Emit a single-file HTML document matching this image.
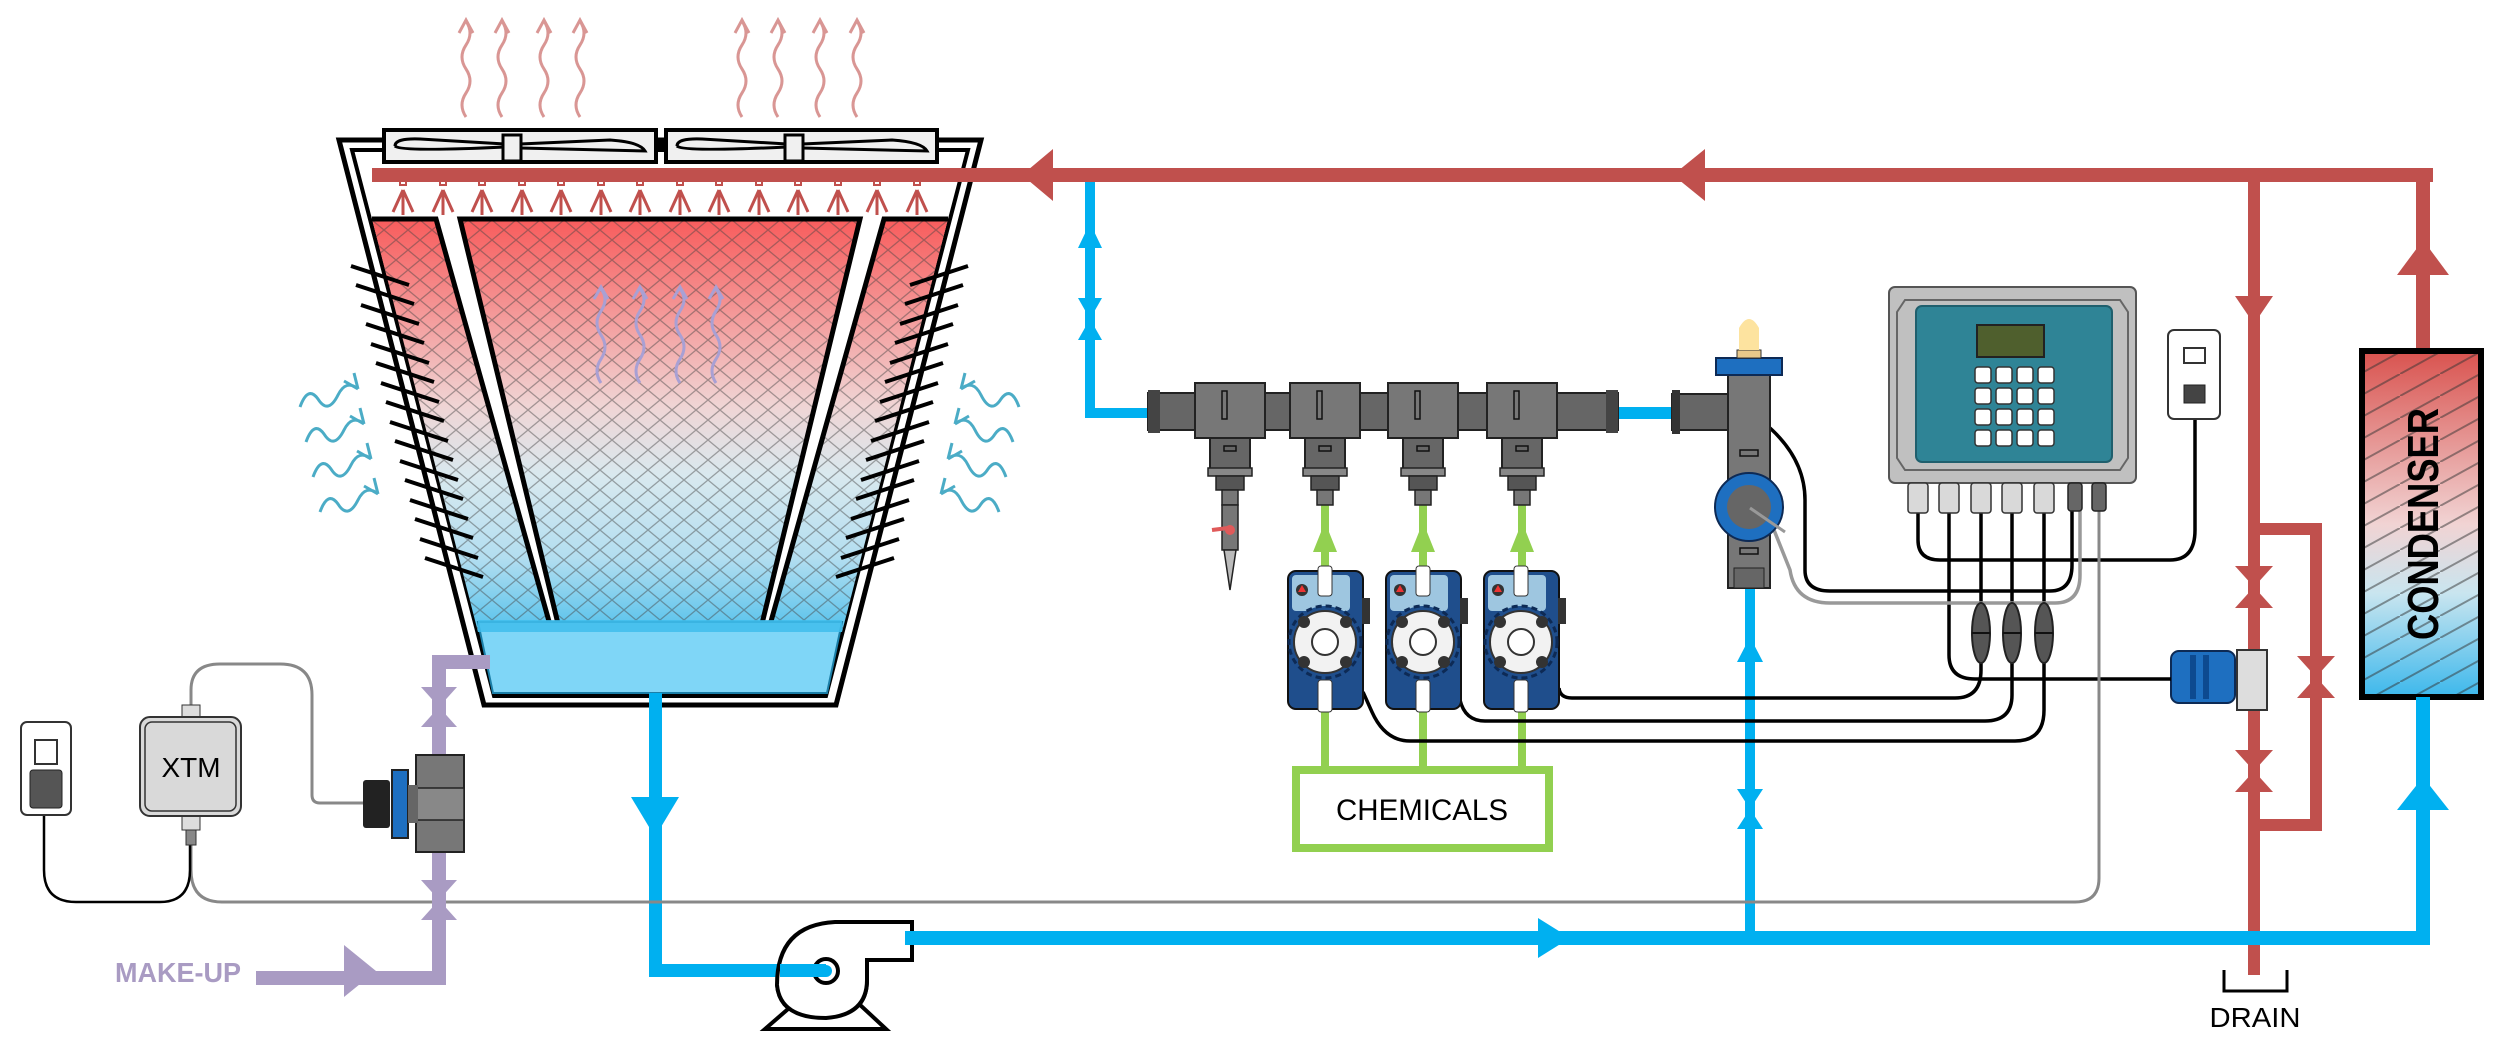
<!DOCTYPE html>
<html><head><meta charset="utf-8"><style>html,body{margin:0;padding:0;background:#fff}svg{display:block}</style></head>
<body>
<svg width="2500" height="1048" viewBox="0 0 2500 1048" xmlns="http://www.w3.org/2000/svg" font-family="Liberation Sans, sans-serif">
<defs>
<linearGradient id="fillg" x1="0" y1="219" x2="0" y2="632" gradientUnits="userSpaceOnUse">
<stop offset="0" stop-color="#f85c5c"/><stop offset="0.18" stop-color="#f58b8b"/><stop offset="0.45" stop-color="#f0d4d4"/><stop offset="0.62" stop-color="#d9e9ef"/><stop offset="0.82" stop-color="#b3def0"/><stop offset="1" stop-color="#55c2ec"/></linearGradient>
<linearGradient id="cond" x1="0" y1="351" x2="0" y2="697" gradientUnits="userSpaceOnUse">
<stop offset="0" stop-color="#d9534f"/><stop offset="0.5" stop-color="#f1d3d3"/><stop offset="0.7" stop-color="#c9e5ef"/><stop offset="1" stop-color="#3db8ec"/></linearGradient>
<pattern id="hatch" width="24" height="20" patternUnits="userSpaceOnUse"><path d="M0,10 L12,0 L24,10 L12,20 Z" fill="none" stroke="#444" stroke-opacity="0.45" stroke-width="1.3"/></pattern>
<pattern id="diag" width="40" height="22" patternUnits="userSpaceOnUse"><path d="M0,22 L40,0" stroke="#333" stroke-opacity="0.5" stroke-width="2"/></pattern>
<path id="hot" d="M0,0 q-8,-12 0,-24 q8,-12 0,-24 q-8,-12 0,-24 q8,-12 0,-24 M-7,-84 L0,-97 L7,-84" fill="none" stroke="#d99694" stroke-width="3"/>
<path id="pur" d="M0,0 q-8,-12 0,-24 q8,-12 0,-24 q-8,-12 0,-24 q8,-12 0,-22 M-7,-84 L0,-96 L7,-84" fill="none" stroke="#a9a0d4" stroke-width="3"/>
<path id="air" d="M0,22 q8,-22 18,-8 q10,16 20,-4 q8,-16 20,-6 M44,-4 L58,4 M58,4 L54,-12" fill="none" stroke="#4bacc6" stroke-width="3"/>
<g id="pump">
<rect x="1288" y="571" width="75" height="138" rx="8" fill="#1f4e8c" stroke="#111" stroke-width="2"/>
<rect x="1292" y="575" width="58" height="36" rx="4" fill="#9ec6e0"/>
<circle cx="1302" cy="590" r="6" fill="#333"/><path d="M1302,585 l4,7 h-8z" fill="#e33"/>
<rect x="1318" y="566" width="14" height="30" rx="3" fill="#fff" stroke="#333"/>
<rect x="1318" y="680" width="14" height="32" rx="3" fill="#fff" stroke="#333"/>
<rect x="1362" y="598" width="8" height="26" fill="#333"/>
<circle cx="1325" cy="642" r="36" fill="#1f4e8c" stroke="#0d2a55" stroke-width="3" stroke-dasharray="6 4"/>
<circle cx="1325" cy="642" r="31" fill="#f2f2f2" stroke="#333" stroke-width="2"/>
<circle cx="1325" cy="642" r="13" fill="#fff" stroke="#333" stroke-width="2"/>
<circle cx="1304" cy="622" r="6" fill="#333"/><circle cx="1346" cy="622" r="6" fill="#333"/><circle cx="1304" cy="662" r="6" fill="#333"/><circle cx="1346" cy="662" r="6" fill="#333"/>
</g>
<g id="tee">
<rect x="-35" y="383" width="70" height="55" fill="#777" stroke="#222" stroke-width="2"/>
<rect x="-20" y="438" width="40" height="32" fill="#666" stroke="#222" stroke-width="2"/>
<rect x="-6" y="446" width="12" height="5" fill="none" stroke="#111" stroke-width="1.5"/>
<rect x="-22" y="468" width="44" height="8" fill="#888" stroke="#222" stroke-width="1.5"/>
<rect x="-14" y="476" width="28" height="14" fill="#555" stroke="#222" stroke-width="1.5"/>
<rect x="-8" y="490" width="16" height="15" fill="#777" stroke="#222" stroke-width="1.5"/>
<rect x="-8" y="391" width="5" height="28" fill="none" stroke="#111" stroke-width="1.5"/>
</g>
</defs>

<!-- hot air -->
<g><use href="#hot" x="466" y="117"/><use href="#hot" x="502" y="117"/><use href="#hot" x="544" y="117"/><use href="#hot" x="580" y="117"/>
<use href="#hot" x="742" y="117"/><use href="#hot" x="778" y="117"/><use href="#hot" x="820" y="117"/><use href="#hot" x="857" y="117"/></g>

<!-- tower -->
<polygon points="339,140 981,140 836,705 484,705" fill="#fff" stroke="#000" stroke-width="5"/>
<polygon points="352,150 968,150 826,696 494,696" fill="#fff" stroke="#000" stroke-width="4"/>
<polygon points="372,219 436,219 552,632 478,632" fill="url(#fillg)"/>
<polygon points="460,219 860,219 760,632 560,632" fill="url(#fillg)"/>
<polygon points="948,219 884,219 768,632 842,632" fill="url(#fillg)"/>
<g fill="url(#hatch)"><polygon points="372,219 436,219 552,632 478,632"/><polygon points="460,219 860,219 760,632 560,632"/><polygon points="948,219 884,219 768,632 842,632"/></g>
<g stroke="#000" stroke-width="5" fill="none">
<path d="M372,219 H436 L552,632"/><path d="M560,632 L460,219 H860 L760,632"/><path d="M948,219 H884 L768,632"/></g>
<polygon points="478,622 842,622 827,693 493,693" fill="#7fd6f7" stroke="#1b7fa8" stroke-width="2"/>
<rect x="478" y="620" width="364" height="12" fill="#3fbdec" opacity="0.85"/>
<!-- interior arrows -->
<use href="#pur" x="601" y="383"/><use href="#pur" x="640" y="383"/><use href="#pur" x="680" y="383"/><use href="#pur" x="716" y="383"/>
<!-- louvers -->
<g id="louv" stroke="#000" stroke-width="4">
<path d="M351,266L409,285M356,285L414,304M361,305L419,324M366,324L424,343M371,344L429,363M376,363L434,382M381,383L439,402M386,402L444,421M390,422L448,441M395,441L453,460M400,461L458,480M405,480L463,499M410,500L468,519M415,519L473,538M420,539L478,558M425,558L483,577"/></g>
<use href="#louv" transform="translate(1319,0) scale(-1,1)"/>
<!-- air in -->
<g id="airs"><use href="#air" x="300" y="385"/><use href="#air" x="306" y="420"/><use href="#air" x="313" y="455"/><use href="#air" x="320" y="490"/></g>
<use href="#airs" transform="translate(1319,0) scale(-1,1)"/>
<!-- fans -->
<rect x="384" y="130" width="272" height="32" fill="#f0f0f0" stroke="#000" stroke-width="4"/>
<rect x="666" y="130" width="271" height="32" fill="#f0f0f0" stroke="#000" stroke-width="4"/>
<rect x="656" y="142" width="10" height="8" fill="#000"/>
<g fill="none" stroke="#000" stroke-width="3">
<path d="M395,146 Q395,138 420,139 L505,144 M395,146 Q400,152 505,147 M520,144 L610,140 Q640,142 645,151 Q600,150 520,148"/>
<path d="M677,146 Q677,138 702,139 L787,144 M677,146 Q682,152 787,147 M802,144 L892,140 Q922,142 927,151 Q882,150 802,148"/></g>
<rect x="503" y="135" width="18" height="26" fill="#f0f0f0" stroke="#000" stroke-width="3"/>
<rect x="785" y="135" width="18" height="26" fill="#f0f0f0" stroke="#000" stroke-width="3"/>

<!-- red top pipe -->
<rect x="372" y="168" width="2061" height="14" fill="#c0504d"/>
<g fill="none" stroke="#c0504d" stroke-width="2">
<rect x="400" y="177" width="6" height="8"/><rect x="440" y="177" width="6" height="8"/><rect x="479" y="177" width="6" height="8"/><rect x="519" y="177" width="6" height="8"/><rect x="558" y="177" width="6" height="8"/><rect x="598" y="177" width="6" height="8"/><rect x="637" y="177" width="6" height="8"/><rect x="677" y="177" width="6" height="8"/><rect x="716" y="177" width="6" height="8"/><rect x="756" y="177" width="6" height="8"/><rect x="795" y="177" width="6" height="8"/><rect x="835" y="177" width="6" height="8"/><rect x="874" y="177" width="6" height="8"/><rect x="914" y="177" width="6" height="8"/></g>
<g id="spr" stroke="#c0504d" stroke-width="3" fill="none"><path d="M403,190 L393,212 M403,190 L403,215 M403,190 L413,212"/></g>
<use href="#spr" x="40"/><use href="#spr" x="79"/><use href="#spr" x="119"/><use href="#spr" x="158"/><use href="#spr" x="198"/><use href="#spr" x="237"/><use href="#spr" x="277"/><use href="#spr" x="316"/><use href="#spr" x="356"/><use href="#spr" x="395"/><use href="#spr" x="435"/><use href="#spr" x="474"/><use href="#spr" x="514"/>
<polygon points="1022,175 1053,149 1053,201" fill="#c0504d"/>
<polygon points="1673,175 1705,149 1705,201" fill="#c0504d"/>
<!-- right red vertical + condenser -->
<rect x="2416" y="168" width="14" height="184" fill="#c0504d"/>
<polygon points="2423,240 2397,275 2449,275" fill="#c0504d"/>
<rect x="2362" y="351" width="119" height="346" fill="url(#cond)"/>
<rect x="2362" y="351" width="119" height="346" fill="url(#diag)"/>
<rect x="2362" y="351" width="119" height="346" fill="none" stroke="#000" stroke-width="6"/>
<text x="0" y="0" transform="translate(2438,524) rotate(-90)" text-anchor="middle" font-size="44" font-weight="bold" textLength="232" lengthAdjust="spacingAndGlyphs">CONDENSER</text>
<rect x="2416" y="697" width="14" height="248" fill="#00b0f0"/>
<polygon points="2423,777 2397,810 2449,810" fill="#00b0f0"/>
<!-- drain line -->
<rect x="2248" y="172" width="12" height="803" fill="#c0504d"/>
<polygon points="2254,324 2235,296 2273,296" fill="#c0504d"/>
<path d="M2254,529 H2316 V825 H2254" fill="none" stroke="#c0504d" stroke-width="12"/>
<g fill="#c0504d"><polygon points="2235,566 2273,566 2254,587"/><polygon points="2235,608 2273,608 2254,587"/>
<polygon points="2235,750 2273,750 2254,771"/><polygon points="2235,792 2273,792 2254,771"/>
<polygon points="2297,656 2335,656 2316,677"/><polygon points="2297,698 2335,698 2316,677"/></g>
<path d="M2224,970 V991 H2287 V970" fill="none" stroke="#000" stroke-width="3"/>
<text x="2255" y="1027" text-anchor="middle" font-size="28" textLength="91" lengthAdjust="spacingAndGlyphs">DRAIN</text>
<!-- solenoid -->
<rect x="2237" y="650" width="30" height="60" fill="#ddd" stroke="#333" stroke-width="2"/>
<rect x="2171" y="651" width="64" height="52" rx="8" fill="#1e6fc0" stroke="#0d2a55" stroke-width="2"/>
<rect x="2190" y="655" width="6" height="44" fill="#0d4a90"/><rect x="2203" y="655" width="6" height="44" fill="#0d4a90"/>

<!-- blue bottom & tower outlet -->
<rect x="649" y="693" width="13" height="284" fill="#00b0f0"/>
<rect x="649" y="964" width="177" height="13" fill="#00b0f0"/>
<polygon points="655,837 631,797 679,797" fill="#00b0f0"/>
<rect x="905" y="931" width="1525" height="14" fill="#00b0f0"/>
<polygon points="1570,938 1538,918 1538,958" fill="#00b0f0"/>
<!-- pump -->
<path d="M912,922 H835 Q777,925 777,985 Q780,1018 826,1018 Q867,1015 867,980 V960 H912 Z" fill="#fff" stroke="#000" stroke-width="4"/>
<polygon points="795,1003 765,1029 886,1029 858,1003" fill="#fff" stroke="#000" stroke-width="4"/>
<path d="M777,985 Q780,1018 826,1018 Q867,1015 867,980" fill="#fff" stroke="#000" stroke-width="4"/>
<rect x="905" y="931" width="14" height="14" fill="#00b0f0"/>
<circle cx="826" cy="971" r="12" fill="#fff" stroke="#000" stroke-width="4"/>
<rect x="780" y="964" width="46" height="13" fill="#00b0f0"/>
<circle cx="826" cy="971" r="6" fill="#00b0f0"/>

<!-- blue branch to manifold -->
<path d="M1090,182 V413 H1160" fill="none" stroke="#00b0f0" stroke-width="10"/>
<polygon points="1090,223 1078,248 1102,248" fill="#00b0f0"/>
<polygon points="1078,298 1102,298 1090,319" fill="#00b0f0"/><polygon points="1078,340 1102,340 1090,319" fill="#00b0f0"/>
<rect x="1610" y="407" width="65" height="12" fill="#00b0f0"/>
<!-- sensor line -->
<rect x="1745" y="585" width="10" height="355" fill="#00b0f0"/>
<polygon points="1750,637 1737,662 1763,662" fill="#00b0f0"/>
<polygon points="1737,789 1763,789 1750,809" fill="#00b0f0"/><polygon points="1737,829 1763,829 1750,809" fill="#00b0f0"/>

<!-- green lines -->
<g stroke="#92d050" stroke-width="8" fill="none"><path d="M1325,505 V572 M1423,505 V572 M1522,505 V572 M1325,708 V770 M1423,708 V770 M1522,708 V770"/></g>
<g fill="#92d050"><polygon points="1325,522 1313,552 1337,552"/><polygon points="1423,522 1411,552 1435,552"/><polygon points="1522,522 1510,552 1534,552"/></g>
<rect x="1296" y="770" width="253" height="78" fill="#fff" stroke="#92d050" stroke-width="8"/>
<text x="1422" y="820" text-anchor="middle" font-size="30" textLength="172" lengthAdjust="spacingAndGlyphs">CHEMICALS</text>

<!-- wires -->
<g fill="none" stroke-width="3.5" stroke="#000">
<path d="M1981,505 V670 Q1981,698 1955,698 H1572 Q1560,698 1559,688"/>
<path d="M2012,505 V695 Q2012,721 1985,721 H1485 Q1465,721 1460,700"/>
<path d="M2044,505 V710 Q2044,741 2015,741 H1410 Q1385,741 1372,712 L1363,692"/>
<path d="M1918,505 V540 Q1918,560 1940,560 H2170 Q2195,560 2195,530 V395"/>
<path d="M1949,505 V655 Q1949,679 1975,679 H2171"/>
<path d="M1770,428 Q1805,460 1805,500 V570 Q1805,591 1830,591 H2050 Q2072,591 2072,565 V505"/>
</g>
<path d="M2080,505 V575 Q2080,603 2055,603 H1830 Q1795,603 1790,570 L1770,520 Q1760,508 1749,507" fill="none" stroke="#999" stroke-width="3.5"/>
<path d="M2099,505 V878 Q2099,902 2075,902 H222 Q191,902 191,870 V845" fill="none" stroke="#888" stroke-width="3"/>
<path d="M191,705 V690 Q191,664 220,664 H280 Q312,664 312,695 V795 Q312,803 320,803 H363" fill="none" stroke="#888" stroke-width="3"/>
<path d="M44,808 V870 Q44,902 76,902 H160 Q190,902 190,870 V845" fill="none" stroke="#000" stroke-width="2.5"/>
<g fill="#555" stroke="#222" stroke-width="2"><ellipse cx="1981" cy="633" rx="9" ry="30"/><ellipse cx="2012" cy="633" rx="9" ry="30"/><ellipse cx="2044" cy="633" rx="9" ry="30"/></g>
<path d="M1972,633 H1990 M2003,633 H2021 M2035,633 H2053" stroke="#111" stroke-width="2"/>

<!-- pumps -->
<use href="#pump"/><use href="#pump" x="98"/><use href="#pump" x="196"/>

<!-- manifold -->
<rect x="1148" y="393" width="470" height="37" fill="#666" stroke="#222" stroke-width="2"/>
<rect x="1148" y="390" width="12" height="43" fill="#444"/><rect x="1606" y="390" width="12" height="43" fill="#444"/>
<use href="#tee" x="1230"/><use href="#tee" x="1325"/><use href="#tee" x="1423"/><use href="#tee" x="1522"/>
<rect x="1222" y="505" width="16" height="45" fill="#777" stroke="#222" stroke-width="1.5"/>
<polygon points="1224,550 1236,550 1230,590" fill="#bbb" stroke="#222" stroke-width="1.5"/>
<path d="M1212,530 L1228,528" stroke="#e05a5a" stroke-width="4"/><circle cx="1230" cy="530" r="5" fill="#e05a5a"/>

<!-- sensor assembly -->
<rect x="1672" y="394" width="58" height="36" fill="#666" stroke="#222" stroke-width="2"/>
<rect x="1672" y="390" width="8" height="44" fill="#333"/>
<rect x="1728" y="374" width="42" height="214" fill="#777" stroke="#222" stroke-width="2"/>
<rect x="1716" y="358" width="66" height="17" fill="#1e6fc0" stroke="#0d2a55" stroke-width="2"/>
<rect x="1737" y="350" width="24" height="8" fill="#e8c88a" stroke="#333"/>
<path d="M1739,350 V328 Q1749,310 1759,328 V350 Z" fill="#fde39f"/>
<rect x="1740" y="450" width="18" height="6" fill="none" stroke="#111" stroke-width="1.5"/>
<rect x="1740" y="548" width="18" height="6" fill="none" stroke="#111" stroke-width="1.5"/>
<rect x="1734" y="568" width="30" height="20" fill="#666" stroke="#222"/>
<ellipse cx="1749" cy="507" rx="34" ry="34" fill="#1e6fc0" stroke="#0d2a55" stroke-width="2"/>
<circle cx="1749" cy="507" r="22" fill="#666"/>
<path d="M1750,508 L1785,532" stroke="#999" stroke-width="3"/>

<!-- controller -->
<rect x="1889" y="287" width="247" height="196" rx="6" fill="#c0c0c0" stroke="#555" stroke-width="2"/>
<polygon points="1905,300 2120,300 2128,312 2128,458 2120,470 1905,470 1897,458 1897,312" fill="none" stroke="#666" stroke-width="2"/>
<rect x="1916" y="306" width="196" height="156" rx="6" fill="#2f8496" stroke="#1f5f6d" stroke-width="2"/>
<rect x="1977" y="325" width="67" height="32" fill="#4f5f2d" stroke="#222" stroke-width="2"/>
<g fill="#fff" stroke="#333" stroke-width="1.5">
<rect x="1975" y="367" width="16" height="16" rx="3"/><rect x="1996" y="367" width="16" height="16" rx="3"/><rect x="2017" y="367" width="16" height="16" rx="3"/><rect x="2038" y="367" width="16" height="16" rx="3"/>
<rect x="1975" y="388" width="16" height="16" rx="3"/><rect x="1996" y="388" width="16" height="16" rx="3"/><rect x="2017" y="388" width="16" height="16" rx="3"/><rect x="2038" y="388" width="16" height="16" rx="3"/>
<rect x="1975" y="409" width="16" height="16" rx="3"/><rect x="1996" y="409" width="16" height="16" rx="3"/><rect x="2017" y="409" width="16" height="16" rx="3"/><rect x="2038" y="409" width="16" height="16" rx="3"/>
<rect x="1975" y="430" width="16" height="16" rx="3"/><rect x="1996" y="430" width="16" height="16" rx="3"/><rect x="2017" y="430" width="16" height="16" rx="3"/><rect x="2038" y="430" width="16" height="16" rx="3"/></g>
<g fill="#d9d9d9" stroke="#333" stroke-width="1.5">
<rect x="1908" y="483" width="20" height="30" rx="3"/><rect x="1939" y="483" width="20" height="30" rx="3"/><rect x="1971" y="483" width="20" height="30" rx="3"/><rect x="2002" y="483" width="20" height="30" rx="3"/><rect x="2034" y="483" width="20" height="30" rx="3"/></g>
<g fill="#666" stroke="#222" stroke-width="1.5"><rect x="2068" y="483" width="14" height="28" rx="3"/><rect x="2092" y="483" width="14" height="28" rx="3"/></g>
<!-- outlets -->
<rect x="2168" y="330" width="52" height="89" rx="6" fill="#fff" stroke="#333" stroke-width="2"/>
<rect x="2184" y="348" width="21" height="15" fill="#fff" stroke="#333" stroke-width="2"/>
<rect x="2184" y="385" width="21" height="18" fill="#444" stroke="#222"/>
<rect x="21" y="722" width="50" height="93" rx="6" fill="#fff" stroke="#333" stroke-width="2"/>
<rect x="35" y="740" width="22" height="24" fill="#fff" stroke="#333" stroke-width="2"/>
<rect x="30" y="770" width="32" height="38" rx="3" fill="#555" stroke="#222"/>

<!-- make-up -->
<path d="M490,662 H439 V978 H256" fill="none" stroke="#a99bc3" stroke-width="14"/>
<polygon points="376,971 344,945 344,997" fill="#a99bc3"/>
<g fill="#a99bc3"><polygon points="421,687 457,687 439,707"/><polygon points="421,727 457,727 439,707"/><polygon points="421,880 457,880 439,900"/><polygon points="421,920 457,920 439,900"/></g>
<text x="178" y="982" text-anchor="middle" font-size="28" font-weight="bold" fill="#a99bc3" textLength="126" lengthAdjust="spacingAndGlyphs">MAKE-UP</text>
<!-- flow meter -->
<rect x="416" y="755" width="48" height="97" fill="#777" stroke="#222" stroke-width="2"/>
<rect x="416" y="788" width="48" height="32" fill="#888" stroke="#222" stroke-width="1.5"/>
<rect x="392" y="770" width="16" height="68" fill="#1e6fc0" stroke="#222" stroke-width="2"/>
<rect x="408" y="785" width="10" height="38" fill="#666"/>
<rect x="363" y="780" width="27" height="48" rx="3" fill="#222"/>
<!-- XTM -->
<rect x="182" y="705" width="18" height="13" fill="#ddd" stroke="#333"/>
<rect x="182" y="816" width="18" height="14" fill="#ddd" stroke="#333"/>
<rect x="186" y="830" width="10" height="15" fill="#888" stroke="#333"/>
<rect x="140" y="717" width="101" height="99" rx="10" fill="#d9d9d9" stroke="#333" stroke-width="2"/>
<rect x="145" y="722" width="91" height="89" rx="7" fill="none" stroke="#333" stroke-width="1.5"/>
<text x="191" y="777" text-anchor="middle" font-size="28" textLength="59" lengthAdjust="spacingAndGlyphs">XTM</text>
</svg>
</body></html>
